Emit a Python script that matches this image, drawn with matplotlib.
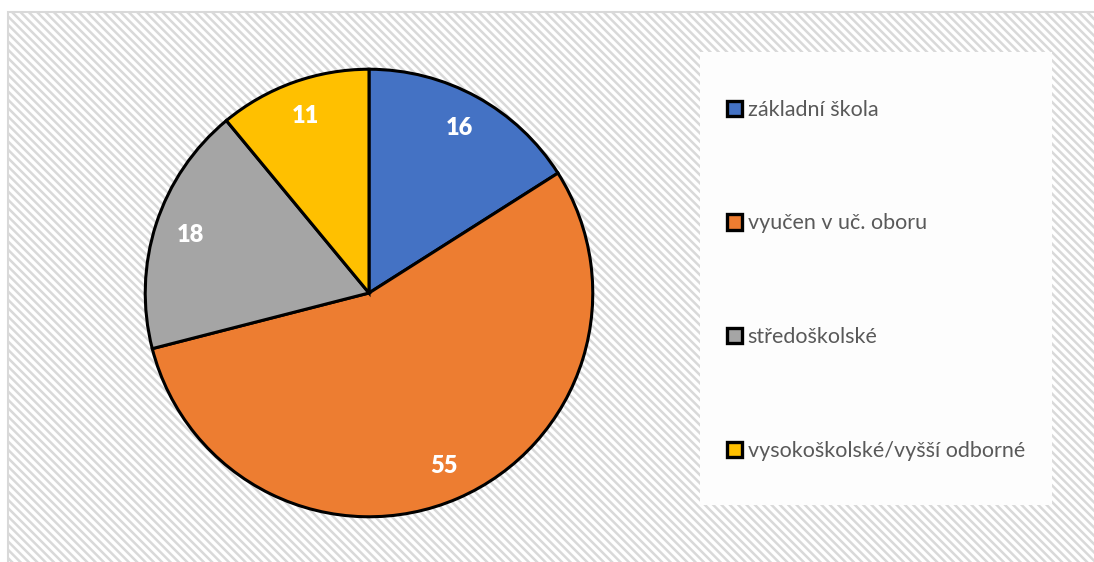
import matplotlib
matplotlib.use("Agg")
import matplotlib.pyplot as plt
from matplotlib.patches import Rectangle, Patch

# DATA
categories = ["základní škola", "vyučen v uč. oboru", "středoškolské", "vysokoškolské/vyšší odborné"]
values = [16, 55, 18, 11]
colors = ["#4472C4", "#ED7D31", "#A5A5A5", "#FFC000"]

# FIGURE GEOMETRY (pixels)
W, H = 1094, 562
plt.rcParams["font.family"] = ["Lato", "DejaVu Sans"]
plt.rcParams["hatch.color"] = "#f4f4f4"
plt.rcParams["hatch.linewidth"] = 1.8

fig = plt.figure(figsize=(W / 100, H / 100), dpi=100)

# chart area background with diagonal stripes
bg = Rectangle((8 / W, -0.05), 1.1, 1.05 - 12 / H, transform=fig.transFigure,
               facecolor="white", edgecolor="#d9d9d9", linewidth=1.5,
               hatch="\\\\\\\\", zorder=-2)
fig.patches.append(bg)

# legend box
lbox = Rectangle((700 / W, (H - 505) / H), 352 / W, 453 / H, transform=fig.transFigure,
                 facecolor="#fdfdfd", edgecolor="none", zorder=-1)
fig.patches.append(lbox)

# PIE
cx, cy, r = 369, 293, 226
ax = fig.add_axes([(cx - r) / W, (H - cy - r) / H, 2 * r / W, 2 * r / H], zorder=2)
ax.patch.set_alpha(0)
wedges, texts = ax.pie(values, colors=colors, startangle=90, counterclock=False,
                       radius=1, labels=[str(v) for v in values], labeldistance=0.84,
                       wedgeprops=dict(edgecolor="black", linewidth=2.2))
for t in texts:
    t.set_color("white")
    t.set_fontsize(17)
    t.set_fontweight("heavy")
    t.set_ha("center")
    t.set_va("center")
ax.set_xlim(-1.01, 1.01)
ax.set_ylim(-1.01, 1.01)
ax.set_aspect("equal")
ax.axis("off")

# LEGEND
handles = [Patch(facecolor=c, edgecolor="black", linewidth=2.4) for c in colors]
leg = fig.legend(handles, categories, loc="upper left",
                 bbox_to_anchor=(716 / W, (H - 89) / H), frameon=False,
                 fontsize=15.5, labelspacing=4.35, handlelength=0.72, handleheight=0.72,
                 handletextpad=0.25, borderpad=0)
leg.set_zorder(3)
for t in leg.get_texts():
    t.set_color("#595959")

fig.savefig("out.png", dpi=100)
